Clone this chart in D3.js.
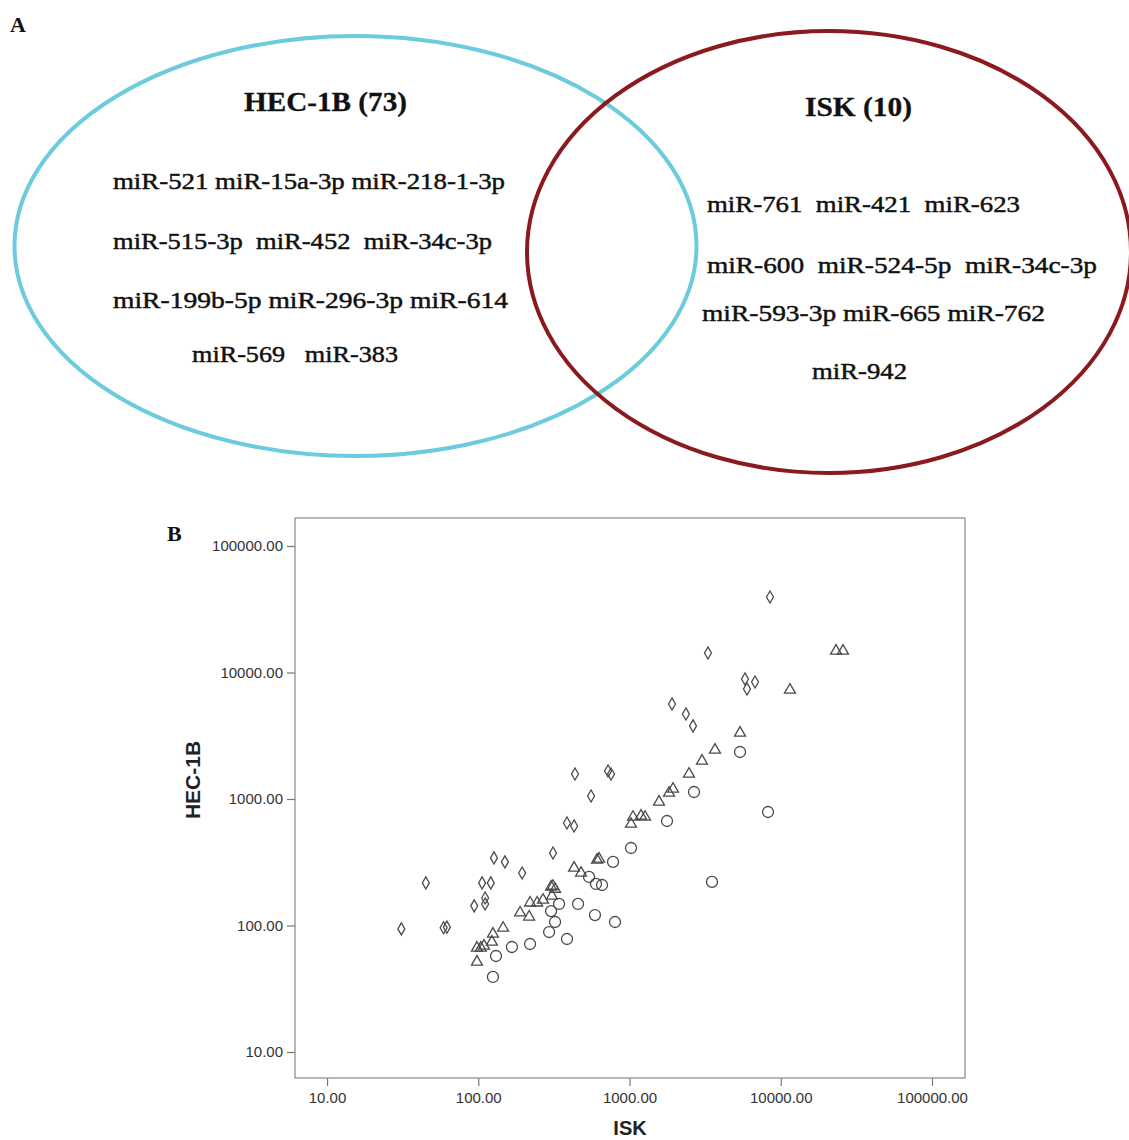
<!DOCTYPE html>
<html><head><meta charset="utf-8">
<script src="https://cdn.jsdelivr.net/npm/d3@7"></script>
<style>body{margin:0;background:#fff}</style>
</head><body><svg id="c" width="1129" height="1140"></svg>
<script>
// ---------- Panel A data (Venn) ----------
const hecTitle = "HEC-1B (73)";
const iskTitle = "ISK (10)";
const hecLines = [
  "miR-521 miR-15a-3p miR-218-1-3p",
  "miR-515-3p  miR-452  miR-34c-3p",
  "miR-199b-5p miR-296-3p miR-614",
  "miR-569   miR-383"
];
const iskLines = [
  "miR-761  miR-421  miR-623",
  "miR-600  miR-524-5p  miR-34c-3p",
  "miR-593-3p miR-665 miR-762",
  "miR-942"
];

// ---------- Panel B data (scatter, ISK vs HEC-1B) ----------
const tickValues = [10, 100, 1000, 10000, 100000];
const xLabel = "ISK";
const yLabel = "HEC-1B";

// diamonds
const diamondISK = [31, 45, 59, 62, 94, 106, 121, 111, 111, 127, 150, 195, 312, 386, 430, 557, 436, 721, 755, 1910, 2360, 2630, 3300, 5800, 6760, 5980, 8490];
const diamondHEC = [94, 217, 96, 97, 143, 217, 217, 165, 148, 342, 318, 260, 374, 646, 612, 1056, 1576, 1665, 1576, 5640, 4700, 3780, 14270, 8890, 8410, 7410, 39500];
// triangles
const triangleISK = [98, 98, 104, 109, 123, 125, 146, 189, 217, 220, 245, 268, 307, 303, 312, 322, 430, 478, 610, 629, 1023, 1055, 1191, 1266, 1567, 1825, 1939, 2474, 3015, 3675, 5380, 11500, 23200, 25800];
const triangleHEC = [51.5, 66.4, 66.4, 68.9, 74.1, 85.7, 95.5, 126, 117, 151, 151, 159, 171, 202, 205, 194, 285, 260, 330, 336, 634, 720, 734, 720, 947, 1115, 1199, 1576, 1997, 2440, 3325, 7270, 14790, 14790];
// circles
const circleISK = [125, 131, 167, 220, 294, 322, 303, 342, 457, 386, 591, 802, 540, 600, 658, 778, 1023, 1770, 2670, 5380, 8240, 3510];
const circleHEC = [39.2, 57.4, 67.6, 71.4, 88.8, 106.6, 130, 148, 148, 78.2, 121, 106.6, 242, 213, 209, 318, 410, 670, 1136, 2352, 789, 221];

const svg = d3.select("#c");
const serif = "'Liberation Serif','DejaVu Serif',serif";
const sans = "'Liberation Sans',Arial,sans-serif";

// ---------- Panel A ----------
svg.append("text").attr("x", 10).attr("y", 32).text("A")
  .attr("font-family", serif).attr("font-weight", "bold").attr("font-size", 22).attr("fill", "#111");

svg.append("ellipse").attr("cx", 355.5).attr("cy", 246).attr("rx", 341).attr("ry", 210)
  .attr("fill", "none").attr("stroke", "#6ccbdd").attr("stroke-width", 4);
svg.append("ellipse").attr("cx", 829).attr("cy", 252).attr("rx", 302).attr("ry", 221)
  .attr("fill", "none").attr("stroke", "#8b1a1f").attr("stroke-width", 4);

function addText(str, x, y, len, size, bold) {
  svg.append("text").attr("x", x).attr("y", y).text(str)
    .attr("xml:space", "preserve")
    .style("white-space", "pre")
    .attr("font-family", serif).attr("font-size", size)
    .attr("font-weight", bold ? "bold" : "normal").attr("fill", "#111")
    .attr("stroke", "#111").attr("stroke-width", bold ? 0.3 : 0.45)
    .attr("textLength", len).attr("lengthAdjust", "spacingAndGlyphs");
}
addText(hecTitle, 244, 111, 163, 27, true);
addText(iskTitle, 805, 116, 107, 27, true);
const hecLayout = [[113, 189, 392], [113, 249, 379], [113, 308, 395], [192, 362, 206]];
const iskLayout = [[707, 212, 313], [707, 273, 390], [702, 321, 343], [812, 379, 95]];
hecLines.forEach((s, i) => addText(s, hecLayout[i][0], hecLayout[i][1], hecLayout[i][2], 23, false));
iskLines.forEach((s, i) => addText(s, iskLayout[i][0], iskLayout[i][1], iskLayout[i][2], 23, false));

// ---------- Panel B ----------
svg.append("text").attr("x", 167).attr("y", 541).text("B")
  .attr("font-family", serif).attr("font-weight", "bold").attr("font-size", 22).attr("fill", "#111");

const L = 295, R = 965, T = 518, B = 1078;
const x = d3.scaleLog().domain([6.14, 165300]).range([L, R]);
const y = d3.scaleLog().domain([6.23, 166450]).range([B, T]);

const fmt = d3.format(".2f");
const gx = svg.append("g").attr("transform", `translate(0,${B})`)
  .call(d3.axisBottom(x).tickValues(tickValues).tickFormat(fmt).tickSize(8).tickPadding(6));
const gy = svg.append("g").attr("transform", `translate(${L},0)`)
  .call(d3.axisLeft(y).tickValues(tickValues).tickFormat(fmt).tickSize(8).tickPadding(4));
[gx, gy].forEach(g => {
  g.select(".domain").remove();
  g.selectAll(".tick line").attr("stroke", "#777").attr("stroke-width", 1.2);
  g.selectAll(".tick text").attr("font-family", sans).attr("font-size", 15).attr("fill", "#333");
});

svg.append("rect").attr("x", L).attr("y", T).attr("width", R - L).attr("height", B - T)
  .attr("fill", "none").attr("stroke", "#888").attr("stroke-width", 1.2);

svg.append("text").attr("x", 630).attr("y", 1135).attr("text-anchor", "middle").text(xLabel)
  .attr("font-family", sans).attr("font-weight", "bold").attr("font-size", 20).attr("fill", "#222");
svg.append("text").attr("transform", "translate(200,780) rotate(-90)").attr("text-anchor", "middle").text(yLabel)
  .attr("font-family", sans).attr("font-weight", "bold").attr("font-size", 21).attr("fill", "#222");

const markStroke = "#4a4a4a";
function plot(xs, ys, type, size) {
  const sym = d3.symbol().type(type).size(size);
  svg.append("g").selectAll("path").data(xs.map((v, i) => [v, ys[i]])).join("path")
    .attr("transform", d => `translate(${x(d[0])},${y(d[1])})`)
    .attr("d", sym)
    .attr("fill", "none").attr("stroke", markStroke).attr("stroke-width", 1.3);
}
plot(circleISK, circleHEC, d3.symbolCircle, 95);
plot(triangleISK, triangleHEC, d3.symbolTriangle, 52);
plot(diamondISK, diamondHEC, d3.symbolDiamond, 42);
</script>
</body></html>
